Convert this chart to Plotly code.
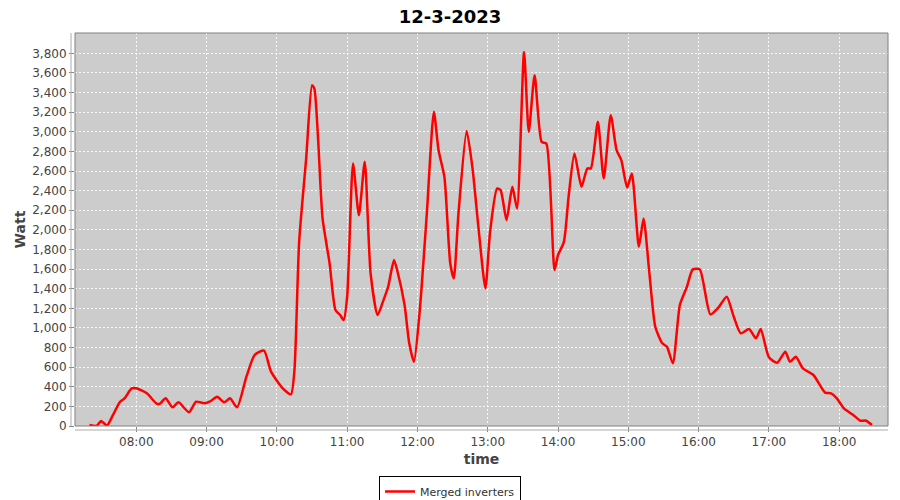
import plotly.graph_objects as go

DATE = "2023-03-12"
TITLE = "12-3-2023"
SERIES_NAME = "Merged inverters"

times = [
    "07:20", "07:26", "07:30", "07:35", "07:40", "07:46", "07:50", "07:56", "08:00",
    "08:09", "08:17", "08:20", "08:25", "08:31", "08:36", "08:45", "08:51", "08:58",
    "09:03", "09:09", "09:15", "09:20", "09:26", "09:34", "09:41", "09:49", "09:55",
    "10:05", "10:12", "10:15", "10:19", "10:25", "10:30", "10:32", "10:35", "10:39",
    "10:45", "10:50", "10:54", "10:57", "11:00", "11:05", "11:10", "11:15", "11:20",
    "11:26", "11:31", "11:35", "11:40", "11:43", "11:49", "11:53", "11:57", "12:02",
    "12:08", "12:14", "12:18", "12:23", "12:28", "12:31", "12:35", "12:42", "12:47",
    "12:52", "12:58", "13:02", "13:08", "13:11", "13:16", "13:21", "13:25", "13:31",
    "13:35", "13:40", "13:46", "13:50", "13:57", "14:00", "14:05", "14:09", "14:14",
    "14:20", "14:25", "14:28", "14:34", "14:39", "14:45", "14:50", "14:54", "14:59",
    "15:03", "15:09", "15:13", "15:18", "15:23", "15:29", "15:33", "15:38", "15:44",
    "15:50", "15:55", "16:01", "16:10", "16:17", "16:24", "16:30", "16:36", "16:43",
    "16:49", "16:53", "17:00", "17:07", "17:14", "17:18", "17:23", "17:29", "17:38",
    "17:48", "17:53", "17:58", "18:04", "18:12", "18:18", "18:23", "18:28",
]
watts = [
    10, 0, 50, 5, 110, 245, 282, 384, 384,
    333, 231, 225, 282, 190, 241, 140, 248, 231,
    250, 299, 241, 282, 190, 503, 724, 768, 554,
    384, 323, 571, 1878, 2728, 3475, 3440, 2965, 2116,
    1658, 1182, 1131, 1080, 1318, 2677, 2150, 2694, 1556,
    1131, 1284, 1420, 1692, 1573, 1233, 843, 655, 1182,
    2167, 3203, 2812, 2540, 1658, 1505, 2167, 3009, 2626,
    2031, 1403, 1980, 2422, 2405, 2099, 2439, 2218, 3814,
    2999, 3577, 2897, 2880, 1590, 1743, 1878, 2337, 2779,
    2439, 2626, 2626, 3101, 2524, 3169, 2812, 2711, 2432,
    2575, 1827, 2116, 1556, 1012, 843, 808, 639, 1233,
    1420, 1597, 1597, 1138, 1210, 1318, 1114, 945, 989,
    894, 989, 700, 645, 757, 655, 706, 588, 520,
    340, 333, 282, 180, 112, 54, 54, 10,
]
y_ticks = list(range(0, 4000, 200))
x_ticks = ["08:00", "09:00", "10:00", "11:00", "12:00", "13:00", "14:00",
           "15:00", "16:00", "17:00", "18:00"]

x = [f"{DATE} {t}" for t in times]

fig = go.Figure()
fig.add_trace(go.Scatter(
    x=x, y=watts, mode="lines", name=SERIES_NAME,
    line=dict(color="#FF0000", width=2.5, shape="spline", smoothing=0.6),
    showlegend=True,
))

FONT = "DejaVu Sans"
W, H = 892, 492  # page body has an 8px margin in the viewer
fig.update_layout(
    width=W, height=H,
    margin=dict(l=67, r=12, t=25, b=74, autoexpand=False),
    paper_bgcolor="white",
    plot_bgcolor="#CCCCCC",
    title=dict(text=f"<b>{TITLE}</b>", x=442 / W, xref="container", y=1 - 2 / H, yref="container",
               xanchor="center", yanchor="top", automargin=False, pad=dict(t=0, b=0),
               font=dict(family=FONT, size=18, color="black")),
    font=dict(family=FONT, color="#444444"),
    showlegend=True,
    legend=dict(xref="container", yref="container", x=442 / W, y=1 - 468 / H,
                xanchor="center", yanchor="top", orientation="h",
                bordercolor="black", borderwidth=1, bgcolor="white",
                font=dict(family=FONT, size=11, color="#333333"),
                itemwidth=30, tracegroupgap=0),
    xaxis=dict(
        type="date", automargin=False,
        range=[f"{DATE} 07:07:40", f"{DATE} 18:41:40"],
        tickvals=[f"{DATE} {t}" for t in x_ticks],
        ticktext=x_ticks,
        showgrid=True, gridcolor="rgba(255,255,255,0.85)", griddash="2px,2px", gridwidth=1,
        ticks="outside", ticklen=5, tickcolor="#888888",
        tickfont=dict(family=FONT, size=12, color="#444444"),
        title=dict(text="<b>time</b>", font=dict(family=FONT, size=14, color="#444444"), standoff=5),
        zeroline=False, showline=False,
    ),
    yaxis=dict(
        range=[0, 4007], automargin=False,
        tickvals=y_ticks,
        tickformat=",d",
        showgrid=True, gridcolor="rgba(255,255,255,0.85)", griddash="2px,2px", gridwidth=1,
        ticks="outside", ticklen=5, tickcolor="#888888",
        tickfont=dict(family=FONT, size=12, color="#444444"),
        title=dict(text="<b>Watt</b>", font=dict(family=FONT, size=14, color="#444444"), standoff=3),
        zeroline=False, showline=False,
    ),
    shapes=[
        dict(type="rect", xref="paper", yref="paper", x0=0, x1=1, y0=0, y1=1,
             line=dict(color="#808080", width=1), fillcolor="rgba(0,0,0,0)", layer="above"),
        dict(type="line", xref="paper", yref="paper", x0=-4/813, x1=-4/813, y0=0, y1=1,
             line=dict(color="#AAAAAA", width=1)),
        dict(type="line", xref="paper", yref="paper", x0=0, x1=1, y0=-4/393, y1=-4/393,
             line=dict(color="#AAAAAA", width=1)),
    ],
)

fig.write_html("out.html")
